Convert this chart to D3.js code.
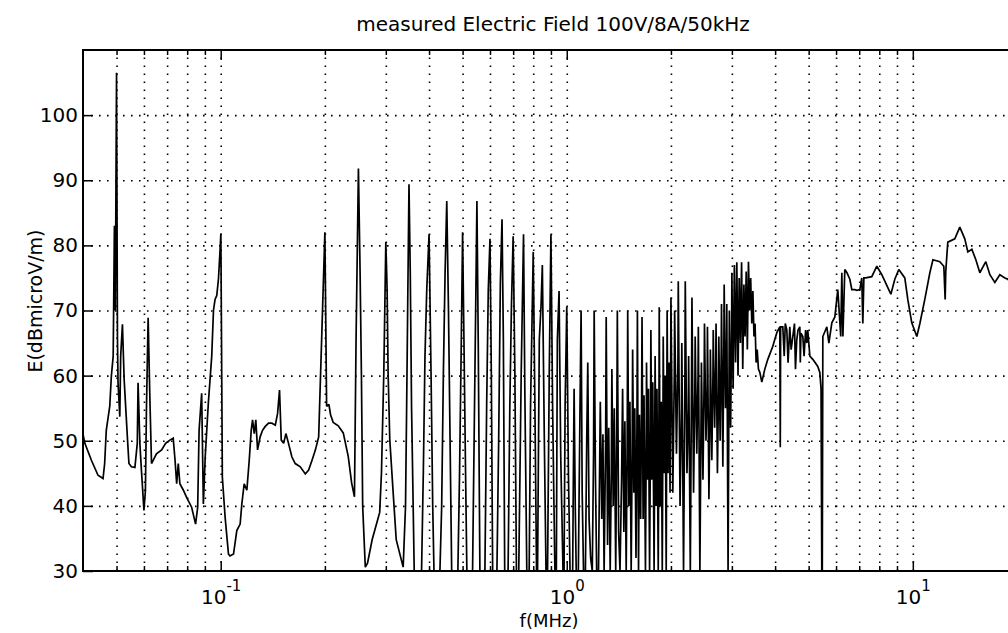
<!DOCTYPE html>
<html><head><meta charset="utf-8">
<script src="https://cdn.jsdelivr.net/npm/d3@7"></script>
<style>
html,body{margin:0;padding:0;background:#fff;}
svg{display:block;font-family:"DejaVu Sans",sans-serif;}
</style></head><body>
<svg id="chart" width="1008" height="633"></svg>
<script>
const chartTitle = "measured Electric Field 100V/8A/50kHz";
const xLabel = "f(MHz)";
const yLabel = "E(dBmicroV/m)";
const freqDomain = [0.04, 20];
const levelDomain = [30, 110];
const levelTicks = [30, 40, 50, 60, 70, 80, 90, 100];
const decadeTicks = [0.1, 1, 10];

// [frequency MHz, level dBµV/m]
const lowBand = [[0.0400,51.0],[0.0405,49.6],[0.0423,47.0],[0.0442,44.7],[0.0457,44.2],[0.0462,46.5],[0.0467,51.6],[0.0478,55.3],[0.0483,59.9],[0.0489,63.0],[0.0493,83.0],[0.0496,70.0],[0.0500,106.5],[0.0503,66.0],[0.0505,58.9],[0.0511,53.7],[0.0514,63.0],[0.0520,67.9],[0.0526,59.4],[0.0532,54.7],[0.0538,50.1],[0.0543,46.5],[0.0552,46.0],[0.0565,45.9],[0.0574,49.6],[0.0577,58.9],[0.0584,49.6],[0.0590,45.5],[0.0600,39.3],[0.0606,42.4],[0.0610,54.7],[0.0617,68.9],[0.0624,56.8],[0.0631,46.5],[0.0638,47.0],[0.0652,48.0],[0.0675,48.6],[0.0693,49.6],[0.0713,50.1],[0.0729,50.4],[0.0738,47.0],[0.0746,43.4],[0.0754,46.5],[0.0762,43.4],[0.0780,42.4],[0.0797,41.3],[0.0824,39.8],[0.0846,37.2],[0.0858,39.8],[0.0866,51.6],[0.0881,57.3],[0.0891,40.3],[0.0902,47.5],[0.0921,55.8],[0.0942,63.0],[0.0953,70.0],[0.0963,71.7],[0.0974,72.3],[0.0985,74.8],[0.0996,79.4],[0.1001,81.8],[0.1011,44.4],[0.1030,38.2],[0.1053,32.6],[0.1064,32.3],[0.1089,32.6],[0.1113,36.2],[0.1138,37.2],[0.1151,40.3],[0.1169,43.4],[0.1190,42.4],[0.1209,47.0],[0.1225,51.6],[0.1236,53.2],[0.1250,51.1],[0.1263,53.2],[0.1278,48.6],[0.1300,50.6],[0.1321,51.6],[0.1345,52.2],[0.1375,52.7],[0.1406,52.7],[0.1438,52.4],[0.1460,54.2],[0.1479,57.8],[0.1496,50.1],[0.1520,49.6],[0.1543,51.1],[0.1570,49.6],[0.1606,47.5],[0.1642,46.5],[0.1698,46.0],[0.1756,44.9],[0.1795,45.5],[0.1836,47.0],[0.1878,48.6],[0.1919,50.6],[0.1960,66.6],[0.2000,82.0]];

const harmonicBand = [[0.2023,55.3],[0.2054,55.6],[0.2077,54.0],[0.2114,52.8],[0.2186,52.3],[0.2260,51.2],[0.2336,47.6],[0.2390,43.5],[0.2435,41.4],[0.2461,65.5],[0.2500,91.8],[0.2528,75.8],[0.2550,60.4],[0.2572,39.9],[0.2617,30.6],[0.2656,31.2],[0.2739,34.8],[0.2880,39.0],[0.2914,45.0],[0.2960,60.4],[0.3000,80.5],[0.3026,73.2],[0.3046,60.4],[0.3080,50.2],[0.3146,42.5],[0.3215,34.8],[0.3367,30.6],[0.3420,39.9],[0.3446,55.3],[0.3470,70.7],[0.3500,89.4],[0.3530,75.8],[0.3560,55.3],[0.3624,30.0],
[0.3805,30.0],[0.3850,45.0],[0.3893,63.0],[0.3939,73.2],[0.4000,81.7],[0.4027,70.7],[0.4053,60.4],[0.4099,39.9],[0.4133,30.0],
[0.4300,30.0],[0.4350,39.9],[0.4400,60.4],[0.4450,75.8],[0.4500,86.8],[0.4550,70.7],[0.4600,50.2],[0.4650,30.0],
[0.4845,30.0],[0.4900,45.0],[0.4955,64.5],[0.5000,82.0],[0.5045,65.5],[0.5100,45.0],[0.5144,30.0],
[0.5343,30.0],[0.5427,60.4],[0.5463,73.2],[0.5500,86.8],[0.5548,65.5],[0.5610,30.0],
[0.5800,30.0],[0.5868,55.3],[0.5932,73.2],[0.6000,81.0],[0.6053,60.4],[0.6107,30.0],
[0.6283,30.0],[0.6357,50.2],[0.6428,74.2],[0.6500,84.0],[0.6558,65.5],[0.6617,30.0],
[0.6767,30.0],[0.6846,55.3],[0.6920,70.7],[0.7000,81.4],[0.7080,60.4],[0.7154,30.0],
[0.7265,30.0],[0.7385,60.4],[0.7500,81.7],[0.7565,57.8],[0.7665,30.0],
[0.7787,30.0],[0.7858,55.3],[0.8000,79.0],[0.8090,55.3],[0.8178,30.0],
[0.8234,30.0],[0.8330,65.5],[0.8426,70.7],[0.8500,77.0],[0.8613,50.2],[0.8710,30.0],
[0.8800,30.0],[0.8900,60.4],[0.9000,81.7],[0.9100,55.3],[0.9240,30.0],
[0.9330,30.0],[0.9393,65.5],[0.9500,73.0],[0.9607,47.6],[0.9753,30.0],
[0.9820,30.0],[0.9890,55.3],[1.0000,70.6],[1.0110,45.0],[1.0220,30.0]];

const denseBand = [[1.040,30],[1.045,45],[1.050,58],[1.058,40],[1.065,30],[1.080,30],[1.092,55],[1.100,70],[1.108,42],[1.118,30],[1.132,30],[1.142,50],[1.150,62],[1.160,38],[1.172,32],[1.185,30],[1.195,48],[1.200,70],[1.210,45],[1.220,30],[1.235,30],[1.245,47],[1.250,56],[1.262,38],[1.272,51],[1.282,30],[1.295,50],[1.300,69],[1.312,34],[1.322,52],[1.335,30],[1.345,45],[1.350,61],[1.362,40],[1.372,55],[1.385,30],[1.395,52],[1.400,70],[1.412,36],[1.425,30],[1.440,44],[1.450,58],[1.462,36],[1.472,53],[1.485,30],[1.495,50],[1.500,70],[1.512,40],[1.522,56],[1.535,30],[1.545,48],[1.550,64],[1.562,42],[1.572,55],[1.585,32],[1.595,52],[1.600,70],[1.612,30],[1.622,54],[1.635,38],[1.645,55],[1.650,69],[1.662,38],[1.672,57],[1.688,30],[1.698,52],[1.700,62],[1.712,44],[1.722,58],[1.735,30],[1.745,50],[1.750,67],[1.762,44],[1.772,59],[1.788,30],[1.797,55],[1.800,63],[1.812,40],[1.822,58],[1.838,30],[1.847,56],[1.850,70.5],[1.862,40],[1.875,56],[1.888,30],[1.897,55],[1.900,66],[1.912,45],[1.925,60],[1.938,30],[1.946,58],[1.950,70],[1.962,45],[1.975,62],[1.988,42],[1.996,60],[2.000,72],[2.025,42],[2.045,60],[2.050,70],[2.075,48],[2.095,62],[2.100,74.5],[2.125,40],[2.145,55],[2.150,65],[2.175,30],[2.195,60],[2.200,74.5],[2.225,45],[2.245,55],[2.250,63],[2.275,30],[2.295,62],[2.300,72],[2.325,42],[2.345,58],[2.350,66],[2.375,48],[2.395,60],[2.400,67.5],[2.425,30],[2.445,55],[2.450,62],[2.475,44],[2.495,60],[2.500,68],[2.525,50],[2.545,58],[2.550,67.5],[2.575,41],[2.595,56],[2.600,64],[2.625,47],[2.645,60],[2.650,67],[2.675,52],[2.695,62],[2.700,68],[2.725,45],[2.745,58],[2.750,66],[2.775,50],[2.795,64],[2.800,71],[2.825,46],[2.845,66],[2.850,74],[2.875,55],[2.895,65],[2.900,71],[2.925,30],[2.945,62],[2.950,70],[2.975,52],[2.995,68],[3.000,75.8],[3.025,58],[3.050,77],[3.075,62],[3.100,77.4],[3.125,60],[3.150,75],[3.175,65],[3.200,77.4],[3.225,61],[3.250,74],[3.275,66],[3.300,76],[3.325,64],[3.350,77.5],[3.375,70],[3.400,75],[3.425,68],[3.450,73],[3.475,66],[3.500,68],[3.525,62],[3.550,64],[3.580,61]];

const highBand = [[3.613,60.5],[3.661,59.0],[3.735,61.0],[3.810,62.5],[3.939,64.5],[4.046,66.6],[4.127,67.5],[4.140,49.0],[4.150,67.5],[4.210,67.5],[4.250,63.0],[4.280,68.0],[4.324,67.0],[4.360,62.0],[4.410,67.5],[4.450,64.0],[4.500,66.0],[4.550,68.0],[4.580,61.0],[4.620,65.5],[4.660,67.0],[4.715,67.5],[4.730,62.0],[4.750,66.5],[4.810,66.0],[4.850,63.0],[4.900,67.0],[4.940,65.0],[4.970,67.0],[5.040,63.0],[5.140,62.5],[5.314,61.4],[5.385,60.5],[5.430,58.0],[5.457,30.0],[5.475,30.0],[5.495,66.0],[5.643,67.5],[5.720,65.0],[5.834,68.1],[5.952,69.0],[6.070,73.2],[6.190,66.0],[6.235,75.8],[6.280,66.0],[6.360,76.3],[6.450,75.8],[6.576,74.8],[6.664,73.2],[6.800,73.2],[6.890,73.1],[7.030,73.2],[7.120,75.0],[7.170,68.0],[7.220,75.0],[7.310,75.0],[7.610,75.2],[7.870,76.8],[8.135,75.5],[8.520,73.2],[8.640,72.5],[8.870,74.8],[9.110,76.3],[9.480,75.0],[9.670,71.7],[9.930,68.1],[10.27,66.0],[10.48,68.0],[10.83,71.7],[11.20,75.8],[11.43,77.8],[11.97,77.5],[12.29,76.8],[12.40,71.7],[12.45,76.0],[12.62,80.5],[13.22,81.0],[13.67,82.8],[14.13,81.0],[14.42,79.0],[14.81,79.4],[15.21,77.8],[15.62,75.8],[16.25,77.5],[16.70,75.5],[17.26,74.3],[17.84,75.5],[18.45,75.0],[18.82,74.8],[19.40,74.0],[20.00,73.5]];

const trace = lowBand.concat(harmonicBand, denseBand, highBand);

const svg = d3.select("#chart");
const L = 83, R = 1017, T = 50, B = 571;
const x = d3.scaleLog().domain(freqDomain).range([L, R]);
const y = d3.scaleLinear().domain(levelDomain).range([B, T]);

const gridX = x.ticks().filter(v => v > freqDomain[0] * 1.001 && v < freqDomain[1] * 0.999);
const minorX = gridX.filter(v => !decadeTicks.some(d => Math.abs(d - v) < 1e-9));
const gridY = levelTicks.filter(v => v > levelDomain[0]);

const dotStyle = sel => sel.selectAll(".tick line")
  .attr("stroke", "#000").attr("stroke-width", 1.6).attr("stroke-dasharray", "1.6,6.4");

// grid
svg.append("g").attr("transform", `translate(0,${B})`)
  .call(d3.axisBottom(x).tickValues(gridX).tickSize(-(B - T)).tickFormat(""))
  .call(g => g.select(".domain").remove()).call(dotStyle);
svg.append("g").attr("transform", `translate(${L},0)`)
  .call(d3.axisLeft(y).tickValues(gridY).tickSize(-(R - L)).tickFormat(""))
  .call(g => g.select(".domain").remove()).call(dotStyle);

// trace
svg.append("clipPath").attr("id", "plotclip").append("rect")
  .attr("x", L).attr("y", T).attr("width", R - L).attr("height", B - T);
svg.append("path").datum(trace)
  .attr("clip-path", "url(#plotclip)")
  .attr("fill", "none").attr("stroke", "#000").attr("stroke-width", 1.7)
  .attr("stroke-linejoin", "miter").attr("stroke-miterlimit", 2)
  .attr("d", d3.line().x(d => x(d[0])).y(d => y(d[1])));

// frame
svg.append("rect").attr("x", L).attr("y", T).attr("width", R - L).attr("height", B - T)
  .attr("fill", "none").attr("stroke", "#000").attr("stroke-width", 2);

// tick marks
const tickGroup = (axis, tr) => svg.append("g").attr("transform", tr).call(axis)
  .call(g => g.select(".domain").remove())
  .call(g => g.selectAll(".tick line").attr("stroke", "#000").attr("stroke-width", 1.5));
tickGroup(d3.axisBottom(x).tickValues(minorX).tickSize(-5).tickFormat(""), `translate(0,${B})`);
tickGroup(d3.axisTop(x).tickValues(minorX).tickSize(-5).tickFormat(""), `translate(0,${T})`);
tickGroup(d3.axisTop(x).tickValues(decadeTicks).tickSize(-10).tickFormat(""), `translate(0,${T})`);
const xMajor = tickGroup(d3.axisBottom(x).tickValues(decadeTicks).tickSize(-10).tickFormat(""), `translate(0,${B})`);
xMajor.selectAll(".tick text").each(function(d) {
  const t = d3.select(this).attr("y", 33).attr("dy", null)
    .attr("font-size", 20).attr("font-family", "DejaVu Sans").attr("text-anchor", "middle").attr("fill", "#000");
  t.append("tspan").text("10");
  t.append("tspan").attr("dy", -13).attr("font-size", 15).text(String(Math.round(Math.log10(d))));
});
const yAxis = tickGroup(d3.axisLeft(y).tickValues(levelTicks).tickSize(-10).tickPadding(5), `translate(${L},0)`);
yAxis.attr("font-size", 20).attr("font-family", "DejaVu Sans");
yAxis.selectAll(".tick text").attr("fill", "#000");

// labels
svg.append("text").attr("x", 553).attr("y", 30.5).attr("text-anchor", "middle")
  .attr("font-size", 20).attr("fill", "#000").text(chartTitle);
svg.append("text").attr("x", 549).attr("y", 627).attr("text-anchor", "middle")
  .attr("font-size", 18).attr("fill", "#000").text(xLabel);
svg.append("text").attr("transform", "translate(42,301) rotate(-90)").attr("text-anchor", "middle")
  .attr("font-size", 19).attr("fill", "#000").text(yLabel);
</script>
</body></html>
